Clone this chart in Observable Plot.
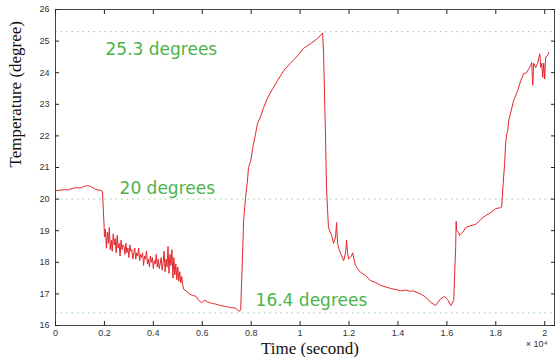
<!DOCTYPE html>
<html><head><meta charset="utf-8">
<script src="https://cdn.jsdelivr.net/npm/d3@7"></script>
<script src="https://cdn.jsdelivr.net/npm/@observablehq/plot@0.6"></script>
<style>body{margin:0;background:#fff}</style>
</head><body><div id="chart"></div>
<script>
// time in units of 10^4 seconds
const time = [
0.000,0.020,0.037,0.050,0.074,0.090,0.102,0.115,0.131,0.143,0.155,0.165,0.175,0.184,0.192,0.196,0.199,
0.200,0.204,0.208,0.212,0.216,0.220,0.224,0.228,0.232,0.236,0.240,0.244,0.248,0.252,0.256,0.260,0.264,0.268,0.272,0.276,
0.280,0.284,0.288,0.292,0.296,0.300,0.304,0.308,0.312,0.316,0.320,0.324,0.328,0.332,0.336,0.340,0.344,0.348,0.352,0.356,
0.360,0.364,0.368,0.372,0.376,0.380,0.384,0.388,0.392,0.396,0.400,0.404,0.408,0.412,0.416,0.420,0.424,0.428,0.432,0.436,
0.440,0.444,0.448,0.452,0.456,0.460,0.464,0.468,0.472,0.476,0.480,0.484,0.488,0.492,0.496,0.500,0.504,0.508,0.512,0.516,
0.520,0.524,0.536,0.548,0.560,0.573,0.585,0.597,0.610,0.622,0.638,0.654,0.675,0.695,0.716,0.736,0.748,0.753,0.757,
0.765,0.769,0.777,0.785,0.789,0.798,0.806,0.818,0.826,0.838,0.851,0.867,0.888,0.908,0.933,0.961,0.990,1.014,1.043,1.071,1.092,
1.096,1.104,1.108,1.112,1.116,1.129,1.137,1.145,1.149,1.153,1.161,1.170,1.178,1.186,1.190,1.194,1.198,1.210,1.215,1.223,1.227,1.231,
1.247,1.268,1.288,1.309,1.329,1.350,1.370,1.390,1.411,1.431,1.452,1.460,1.493,1.513,1.534,1.554,1.575,1.591,1.603,1.616,1.628,
1.632,1.636,1.638,1.640,1.648,1.652,1.665,1.677,1.697,1.718,1.738,1.759,1.779,1.800,1.820,1.824,
1.832,1.836,1.840,1.845,1.849,1.853,1.861,1.873,1.890,1.902,1.914,1.926,1.935,1.943,1.947,1.951,1.955,1.963,1.971,1.980,1.984,1.988,1.992,1.996,2.000,2.004,2.012,2.016
];
const temp = [
20.27,20.28,20.30,20.29,20.35,20.36,20.35,20.40,20.43,20.40,20.35,20.30,20.29,20.28,20.25,19.60,19.10,
18.80,19.05,18.45,18.95,18.60,19.10,18.40,18.70,18.35,18.90,18.55,18.75,18.30,18.85,18.45,18.60,18.20,18.70,18.40,18.55,
18.50,18.25,18.60,18.30,18.45,18.15,18.55,18.35,18.40,18.10,18.30,18.45,18.10,18.30,18.20,18.45,18.05,18.25,18.15,18.30,
17.90,18.20,18.10,18.35,17.95,18.10,17.85,18.20,18.00,18.15,17.80,18.05,17.95,18.25,17.85,18.10,17.80,17.95,18.15,17.75,
18.00,18.35,17.70,18.10,17.85,18.50,17.65,18.25,17.90,18.40,17.50,18.15,17.60,17.95,17.45,17.85,17.40,17.70,17.35,17.55,
17.30,17.15,17.08,17.00,16.95,16.93,16.80,16.72,16.80,16.75,16.70,16.68,16.63,16.60,16.57,16.55,16.47,16.45,16.50,
18.30,19.30,20.05,20.60,21.00,21.20,21.60,22.07,22.40,22.60,22.90,23.20,23.50,23.75,24.07,24.30,24.54,24.77,24.92,25.08,25.25,
24.60,21.95,20.37,19.70,19.10,18.85,18.60,18.80,19.26,18.60,18.37,18.20,18.05,18.30,18.70,18.30,18.10,18.20,18.30,18.00,17.90,17.84,
17.68,17.58,17.42,17.36,17.27,17.22,17.17,17.14,17.10,17.12,17.08,17.10,17.00,16.90,16.73,16.63,16.85,16.92,16.82,16.63,16.79,
17.65,18.47,19.30,19.00,18.95,18.85,18.95,19.10,19.16,19.20,19.35,19.48,19.57,19.70,19.73,19.75,
20.70,21.10,21.75,22.07,22.17,22.49,22.74,23.12,23.44,23.75,23.97,24.00,24.13,24.23,24.32,23.60,24.30,24.16,24.30,24.60,24.16,24.30,23.85,24.30,23.80,24.50,24.54,24.64
];
const refValues = [25.3, 20, 16.4];
const refLabels = ["25.3 degrees", "20 degrees", "16.4 degrees"];
const refLabelX = [0.2045, 0.262, 0.818];
const refLabelDy = [18, -11, -12];
const xTicks = [0, 0.2, 0.4, 0.6, 0.8, 1, 1.2, 1.4, 1.6, 1.8, 2];
const yTicks = [16, 17, 18, 19, 20, 21, 22, 23, 24, 25, 26];

const series = time.map((t, i) => ({t, v: temp[i]}));
const green = "#4cb34a";

const chart = Plot.plot({
  width: 555, height: 364,
  marginLeft: 55, marginRight: 1, marginTop: 9, marginBottom: 39,
  style: {fontFamily: "Liberation Sans, Arial, sans-serif", fontSize: "9px", color: "#333", background: "#fff"},
  x: {domain: [0, 2.04], ticks: xTicks},
  y: {domain: [16, 26], ticks: yTicks},
  marks: [
    Plot.ruleY(refValues, {stroke: "#8fd08a", strokeWidth: 1, strokeDasharray: "1.5,4"}),
    Plot.line(series, {x: "t", y: "v", stroke: "#e3262c", strokeWidth: 1}),
    Plot.frame({stroke: "#444"}),
    Plot.axisX({ticks: xTicks, tickSize: -4, tickPadding: 8, tickFormat: d => String(d), label: null, stroke: "#222"}),
    Plot.axisX({anchor: "top", ticks: xTicks, tickSize: -4, tickFormat: () => "", label: null, stroke: "#222"}),
    Plot.axisY({ticks: yTicks, tickSize: -4, tickPadding: 10, tickFormat: d => String(d), label: null, stroke: "#222"}),
    Plot.axisY({anchor: "right", ticks: yTicks, tickSize: -4, tickFormat: () => "", label: null, stroke: "#222"}),
    ...refValues.map((v, i) => Plot.text([refLabels[i]], {
      x: refLabelX[i], y: v, text: d => d, textAnchor: "start", dy: refLabelDy[i],
      fill: green, fontSize: 17, fontFamily: "DejaVu Sans, sans-serif", style: "letter-spacing:0.5px"
    })),
    Plot.text(["Time (second)"], {frameAnchor: "bottom", dx: 5, dy: 28, fontSize: 17, fontFamily: "Liberation Serif, Times New Roman, serif", fill: "#111"}),
    Plot.text(["Temperature (degree)"], {frameAnchor: "left", dx: -40, rotate: -90, fontSize: 17, fontFamily: "Liberation Serif, Times New Roman, serif", fill: "#111"}),
    Plot.text(["× 10⁴"], {frameAnchor: "bottom-right", dx: -7, dy: 21, fontSize: 9, fill: "#333", textAnchor: "end"})
  ]
});
document.getElementById("chart").appendChild(chart);
</script>
</body></html>
